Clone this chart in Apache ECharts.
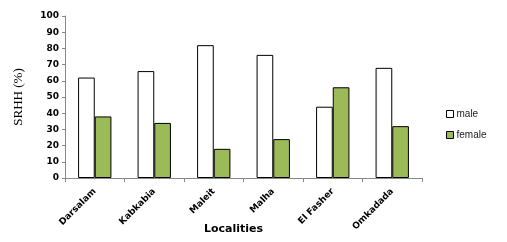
<!DOCTYPE html>
<html><head><meta charset="utf-8">
<script src="https://cdn.jsdelivr.net/npm/echarts@6/dist/echarts.min.js"></script>
<style>html,body{margin:0;padding:0;background:#fff}#c{width:507px;height:242px}</style>
</head><body><div id="c"></div>
<script>
var categories = ['Darsalam','Kabkabia','Maleit','Malha','El Fasher','Omkadada'];
var male = [62,66,82,76,44,68];
var female = [38,34,18,24,56,32];
var yTicks = [0,100,10];

var chart = echarts.init(document.getElementById('c'));
chart.setOption({
  animation:false,
  grid:{left:65,top:16,width:357,height:162,containLabel:false,outerBoundsMode:'none'},
  legend:{
    orient:'vertical', left:441, top:104, itemWidth:7, itemHeight:7, itemGap:11,
    icon:'rect',
    textStyle:{fontFamily:'Liberation Sans', fontSize:10, color:'#222', padding:[0,0,0,-2]},
    data:[{name:'male',itemStyle:{color:'#fff',borderColor:'#000',borderWidth:1}},
          {name:'female',itemStyle:{color:'#9BBB59',borderColor:'#000',borderWidth:1}}]
  },
  xAxis:{
    type:'category', data:categories,
    name:'Localities', nameLocation:'middle', nameGap:46, nameMoveOverlap:false,
    nameTextStyle:{fontFamily:'DejaVu Sans', fontWeight:'bold', fontSize:11, color:'#000', padding:[0,20,0,0]},
    axisLine:{lineStyle:{color:'#888'}},
    axisTick:{show:true, length:4, lineStyle:{color:'#888'}},
    axisLabel:{rotate:45, fontFamily:'DejaVu Sans', fontWeight:'bold', fontSize:9, color:'#000', margin:12}
  },
  yAxis:{
    type:'value', min:yTicks[0], max:yTicks[1], interval:yTicks[2],
    name:'SRHH (%)', nameLocation:'middle', nameGap:40, nameMoveOverlap:false,
    nameTextStyle:{fontFamily:'Liberation Serif', fontSize:13, color:'#000'},
    axisLine:{show:true, lineStyle:{color:'#888'}},
    axisTick:{show:true, length:3, lineStyle:{color:'#888'}},
    splitLine:{show:false},
    axisLabel:{fontFamily:'DejaVu Sans', fontWeight:'bold', fontSize:9, color:'#000', margin:6}
  },
  series:[
    {name:'male', type:'bar', data:male, barGap:'0%', barCategoryGap:'44%',
     itemStyle:{color:'#fff', borderColor:'#000', borderWidth:1, borderRadius:0}},
    {name:'female', type:'bar', data:female,
     itemStyle:{color:'#9BBB59', borderColor:'#000', borderWidth:1, borderRadius:0}}
  ]
});
</script></body></html>
